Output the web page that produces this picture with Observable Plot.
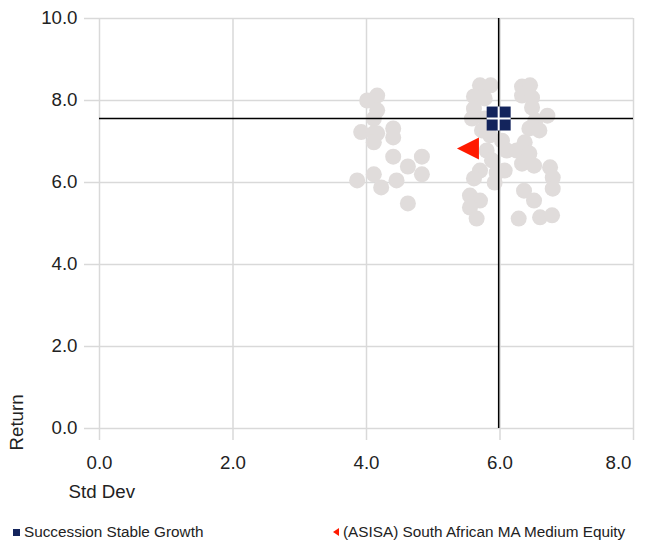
<!DOCTYPE html>
<html>
<head>
<meta charset="utf-8">
<script src="https://cdn.jsdelivr.net/npm/d3@7"></script>
<script src="https://cdn.jsdelivr.net/npm/@observablehq/plot@0.6"></script>
<style>
  html, body { margin: 0; padding: 0; background: #fff; }
  body { width: 645px; height: 542px; overflow: hidden; font-family: "Liberation Sans", Arial, sans-serif; }
  #legend { position: relative; height: 32px; font-size: 15.3px; color: #222; }
  .item { position: absolute; top: 13px; white-space: nowrap; }
  .sq { display: inline-block; width: 7px; height: 7px; background: #13245c; margin-right: 4px; vertical-align: 1px; }
  .tri { display: inline-block; width: 0; height: 0; border-top: 4px solid transparent; border-bottom: 4px solid transparent; border-right: 6px solid #ff1a00; margin-right: 4px; vertical-align: 1px; }
</style>
</head>
<body>
<div id="chart"></div>
<div id="legend"></div>
<script>
// ---- data ----
const xTicks = [0, 2, 4, 6, 8];
const yTicks = [0, 2, 4, 6, 8, 10];
const xLabel = "Std Dev";
const yLabel = "Return";

// peer funds (grey dots)
const peerStd = [
  4.01, 4.16, 4.16, 4.11, 3.92, 4.11, 4.16, 4.11, 4.40, 4.40, 4.40, 4.83, 4.62, 4.83, 4.11, 3.86, 4.22, 4.45, 4.62,
  5.70, 5.86, 5.61, 5.77, 5.61, 5.58, 5.77, 5.73, 5.85, 5.80, 5.88, 5.70, 5.61, 5.55, 5.70, 5.55, 5.65, 5.92, 5.95, 6.10, 6.07, 6.03,
  6.33, 6.45, 6.33, 6.48, 6.48, 6.71, 6.53, 6.44, 6.59, 6.37, 6.25, 6.44, 6.33, 6.51, 6.75, 6.79, 6.79, 6.36, 6.51, 6.28, 6.60, 6.78
];
const peerReturn = [
  8.00, 8.12, 7.76, 7.56, 7.23, 7.20, 7.20, 6.98, 7.32, 7.10, 6.63, 6.63, 6.39, 6.20, 6.20, 6.05, 5.88, 6.05, 5.49,
  8.37, 8.37, 8.10, 8.05, 7.80, 7.56, 7.56, 7.27, 7.15, 6.78, 6.54, 6.29, 6.10, 5.68, 5.56, 5.39, 5.12, 6.00, 6.24, 6.78, 6.29, 7.02,
  8.34, 8.37, 8.12, 8.07, 7.83, 7.63, 7.51, 7.32, 7.27, 6.98, 6.78, 6.71, 6.46, 6.41, 6.37, 6.12, 5.85, 5.80, 5.56, 5.12, 5.15, 5.20
];

const fundName = ["Succession Stable Growth"];
const fundStd = [5.98];
const fundReturn = [7.56];

const categoryName = ["(ASISA) South African MA Medium Equity"];
const categoryStd = [5.52];
const categoryReturn = [6.83];

// ---- tables built from arrays ----
const peers = peerStd.map((s, i) => ({std: s, ret: peerReturn[i]}));
const fund = fundStd.map((s, i) => ({name: fundName[i], std: s, ret: fundReturn[i]}));
const category = categoryStd.map((s, i) => ({name: categoryName[i], std: s, ret: categoryReturn[i]}));

// custom symbols
const leftTriangle = {
  draw(ctx, size) {
    const r = Math.sqrt(size / Math.PI);
    ctx.moveTo(-r, 0); ctx.lineTo(r, -r); ctx.lineTo(r, r); ctx.closePath();
  }
};
const squareSym = {
  draw(ctx, size) {
    const r = Math.sqrt(size / Math.PI);
    ctx.moveTo(-r, -r); ctx.lineTo(r, -r); ctx.lineTo(r, r); ctx.lineTo(-r, r); ctx.closePath();
  }
};
const crossSym = {
  draw(ctx, size) {
    const r = Math.sqrt(size / Math.PI);
    ctx.moveTo(-r, 0); ctx.lineTo(r, 0); ctx.moveTo(0, -r); ctx.lineTo(0, r);
  }
};

const grid = "#d9d9d9";
const fmt = d3.format(".1f");
const xInner = xTicks.slice(0, -1);
const xLast = xTicks.slice(-1);
const chart = Plot.plot({
  width: 645,
  height: 510,
  marginLeft: 99,
  marginRight: 12,
  marginTop: 18,
  marginBottom: 82,
  style: {fontFamily: "'Liberation Sans', Arial, sans-serif", fontSize: "18.7px", color: "#222", background: "#fff"},
  x: {domain: [0, 8]},
  y: {domain: [0, 10]},
  marks: [
    Plot.gridX(xTicks, {stroke: grid, strokeOpacity: 1, strokeWidth: 1.5}),
    Plot.gridY(yTicks, {stroke: grid, strokeOpacity: 1, strokeWidth: 1.5}),
    Plot.axisX(xTicks, {tickSize: 12, stroke: grid, strokeWidth: 1.5, text: null, label: null}),
    Plot.axisX(xInner, {tickSize: 0, tickPadding: 27, tickFormat: fmt, label: null, fill: "#222"}),
    Plot.axisX(xLast, {tickSize: 0, tickPadding: 27, tickFormat: fmt, label: null, fill: "#222", dx: -15}),
    Plot.axisY(yTicks, {tickSize: 15, tickPadding: 7, stroke: grid, strokeWidth: 1.5, tickFormat: fmt, label: null, fill: "#222"}),
    Plot.dot(peers, {x: "std", y: "ret", r: 8, fill: "#e0dcdb", stroke: "none"}),
    Plot.ruleX(fund, {x: "std", stroke: "#000", strokeWidth: 1.5}),
    Plot.ruleY(fund, {y: "ret", stroke: "#000", strokeWidth: 1.5}),
    Plot.dot(category, {x: "std", y: "ret", r: 11, symbol: leftTriangle, fill: "#ff1a00", stroke: "none"}),
    Plot.dot(fund, {x: "std", y: "ret", r: 12, symbol: squareSym, fill: "#13245c", stroke: "none"}),
    Plot.dot(fund, {x: "std", y: "ret", r: 12, symbol: crossSym, fill: "none", stroke: "#fff", strokeWidth: 2}),
    Plot.text([xLabel], {frameAnchor: "bottom-left", textAnchor: "start", dx: -31, dy: 69, fill: "#222"}),
    Plot.text([yLabel], {frameAnchor: "bottom-left", textAnchor: "start", rotate: -90, dx: -77, dy: 22, fill: "#222"})
  ]
});
document.getElementById("chart").appendChild(chart);

const legend = document.getElementById("legend");
legend.innerHTML =
  `<span class="item" style="left:13px"><span class="sq"></span>${fundName[0]}</span>` +
  `<span class="item" style="left:333px"><span class="tri"></span>${categoryName[0]}</span>`;
</script>
</body>
</html>
